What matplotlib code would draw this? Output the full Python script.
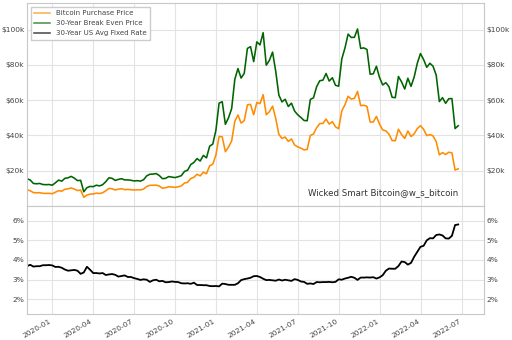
import numpy as np
import pandas as pd
import matplotlib
matplotlib.use("Agg")
import matplotlib.pyplot as plt
import matplotlib.dates as mdates
from matplotlib.ticker import FuncFormatter

# weekly observations (Thursdays)
dates = pd.date_range("2019-11-07", "2022-06-23", freq="W-THU")

# bitcoin price, thousands of USD
btc_price = [
    9.2, 8.65, 7.6, 7.5, 7.55, 7.2, 7.15, 7.2,
    6.98, 7.82, 8.72, 8.4, 9.5, 9.75, 10.23, 9.6, 8.78, 9.07, 4.97, 6.19, 6.76,
    6.8, 7.3, 7.1, 7.5, 8.66, 9.99, 9.8, 9.08, 9.58, 9.8, 9.3, 9.4, 9.25,
    9.1, 9.23, 9.13, 9.6, 11.1, 11.75, 11.75, 11.86, 11.3, 10.1, 10.35, 10.95, 10.75,
    10.6, 10.9, 11.4, 12.99, 13.45, 15.6, 16.3, 18.0, 17.1, 19.2, 18.3, 22.8, 23.7,
    29.0, 39.4, 39.2, 30.8, 33.4, 36.9, 48.0, 51.6, 47.0, 48.4, 57.3, 57.6, 51.7,
    58.7, 58.0, 63.1, 51.7, 53.5, 56.6, 49.7, 40.6, 38.3, 39.1, 36.6, 38.0, 34.6,
    33.5, 32.8, 31.8, 32.1, 40.0, 40.8, 44.4, 46.7, 46.8, 49.3, 46.4, 47.8, 44.9,
    43.8, 53.9, 57.4, 62.2, 60.6, 61.0, 64.9, 56.9, 57.1, 56.5, 47.6, 47.6, 50.8,
    46.4, 43.1, 42.6, 40.7, 37.1, 37.0, 43.5, 40.5, 38.3, 42.5, 39.4, 40.9, 43.9,
    45.5, 43.5, 39.9, 40.5, 39.7, 36.5, 29.0, 30.3, 29.2, 30.5, 30.1, 20.4, 21.1,
]

# 30-year break even price, thousands of USD
break_even = [
    15.5, 14.7, 12.8, 12.6, 12.8, 12.2, 12.1, 12.2,
    11.8, 13.2, 14.7, 14.1, 15.7, 16.0, 16.8, 15.8, 14.4, 14.6, 8.1, 10.4, 11.1,
    11.0, 11.8, 11.4, 12.1, 13.8, 16.0, 15.7, 14.5, 15.1, 15.5, 14.8, 14.8, 14.6,
    14.2, 14.4, 14.1, 14.9, 17.1, 18.0, 18.1, 18.4, 17.3, 15.5, 15.7, 16.7, 16.4,
    16.1, 16.6, 17.2, 19.6, 20.3, 23.5, 24.7, 26.9, 25.5, 28.7, 27.3, 33.9, 35.1,
    43.0, 58.3, 59.1, 46.3, 50.0, 55.2, 71.8, 77.9, 72.5, 75.2, 89.3, 90.3, 81.8,
    93.0, 91.3, 98.2, 79.8, 82.6, 87.2, 76.4, 62.8, 59.0, 60.5, 56.4, 58.3, 53.8,
    51.7, 50.2, 48.5, 48.3, 60.4, 61.3, 67.6, 71.0, 71.3, 75.1, 70.8, 72.7, 68.4,
    67.9, 83.3, 89.5, 97.4, 95.5, 95.6, 100.3, 89.3, 89.6, 88.7, 74.7, 74.9, 79.2,
    72.8, 68.6, 69.9, 67.6, 61.6, 61.4, 73.4, 70.3, 66.3, 72.4, 67.8, 73.1, 80.9,
    86.4, 83.0, 78.6, 80.9, 79.2, 74.2, 59.2, 61.4, 58.2, 60.8, 60.9, 43.9, 45.5,
]

# 30-year US average fixed mortgage rate, percent
mortgage_rate = [
    3.69, 3.75, 3.66, 3.68, 3.68, 3.73, 3.73, 3.74,
    3.72, 3.64, 3.65, 3.60, 3.51, 3.45, 3.47, 3.49, 3.45, 3.29, 3.36, 3.65, 3.50,
    3.33, 3.33, 3.31, 3.33, 3.23, 3.26, 3.28, 3.24, 3.15, 3.18, 3.21, 3.13, 3.13,
    3.07, 3.03, 2.98, 3.01, 2.99, 2.88, 2.96, 2.99, 2.91, 2.93, 2.86, 2.87, 2.90,
    2.88, 2.87, 2.81, 2.80, 2.81, 2.78, 2.84, 2.72, 2.72, 2.71, 2.71, 2.67, 2.66,
    2.67, 2.65, 2.79, 2.77, 2.73, 2.73, 2.73, 2.81, 2.97, 3.02, 3.05, 3.09, 3.17,
    3.18, 3.13, 3.04, 2.97, 2.98, 2.96, 2.94, 3.00, 2.95, 2.99, 2.96, 2.93, 3.02,
    2.98, 2.90, 2.88, 2.78, 2.80, 2.77, 2.87, 2.86, 2.87, 2.87, 2.88, 2.86, 2.88,
    3.01, 2.99, 3.05, 3.09, 3.14, 3.09, 2.98, 3.10, 3.10, 3.11, 3.10, 3.12, 3.05,
    3.11, 3.22, 3.45, 3.56, 3.55, 3.55, 3.69, 3.92, 3.89, 3.76, 3.85, 4.16, 4.42,
    4.67, 4.72, 5.00, 5.11, 5.10, 5.27, 5.30, 5.25, 5.10, 5.09, 5.23, 5.78, 5.81,
]

price_ticks = [20000, 40000, 60000, 80000, 100000]
rate_ticks = [2, 3, 4, 5, 6]

grid_col = "#e3e3e3"
spine_col = "#c8c8c8"
text_col = "#444444"
fs = 5.4

fig = plt.figure(figsize=(5.12, 3.4), dpi=100)
ax1 = fig.add_axes([0.053, 0.394, 0.892, 0.597])
ax2 = fig.add_axes([0.053, 0.077, 0.892, 0.317], sharex=ax1)

ax1.plot(dates, np.array(btc_price) * 1000, color="darkorange", lw=1.15,
         label="Bitcoin Purchase Price")
ax1.plot(dates, np.array(break_even) * 1000, color="darkgreen", lw=1.15,
         label="30-Year Break Even Price")
ax1.plot([], [], color="black", lw=1.15, label="30-Year US Avg Fixed Rate")
ax2.plot(dates, mortgage_rate, color="black", lw=1.3)

ax1.set_ylim(0, 115000)
ax1.set_yticks(price_ticks)
ax1.yaxis.set_major_formatter(FuncFormatter(lambda v, p: "${:.0f}k".format(v / 1000)))
ax2.set_ylim(1.25, 6.75)
ax2.set_yticks(rate_ticks)
ax2.yaxis.set_major_formatter(FuncFormatter(lambda v, p: "{:.0f}%".format(v)))

ax2.set_xlim(pd.Timestamp("2019-11-07"), pd.Timestamp("2022-08-19"))
ax2.xaxis.set_major_locator(mdates.MonthLocator(bymonth=[1, 4, 7, 10]))
ax2.xaxis.set_major_formatter(mdates.DateFormatter("%Y-%m"))

for ax in (ax1, ax2):
    ax.set_facecolor("white")
    ax.grid(True, color=grid_col, lw=0.8)
    ax.set_axisbelow(True)
    for s in ax.spines.values():
        s.set_color(spine_col)
        s.set_linewidth(0.8)
    ax.tick_params(axis="both", length=0, labelsize=fs, labelcolor=text_col,
                   labelright=True, pad=2)
    ax.tick_params(axis="x", pad=3)

ax1.tick_params(axis="x", labelbottom=False)
for lab in ax2.get_xticklabels():
    lab.set_rotation(30)
    lab.set_ha("right")

leg = ax1.legend(loc="upper left", fontsize=5, frameon=True, fancybox=False,
                 edgecolor="#cccccc", framealpha=1, borderpad=0.5, labelspacing=0.6,
                 handlelength=2.3, labelcolor="#444444", bbox_to_anchor=(0.0, 1.0))
for h in leg.get_lines():
    h.set_alpha(0.7)

ax1.text(0.943, 0.064, "Wicked Smart Bitcoin@w_s_bitcoin", transform=ax1.transAxes,
         ha="right", va="center", fontsize=6.2, color="#333333")

fig.savefig("out.png", dpi=100)
